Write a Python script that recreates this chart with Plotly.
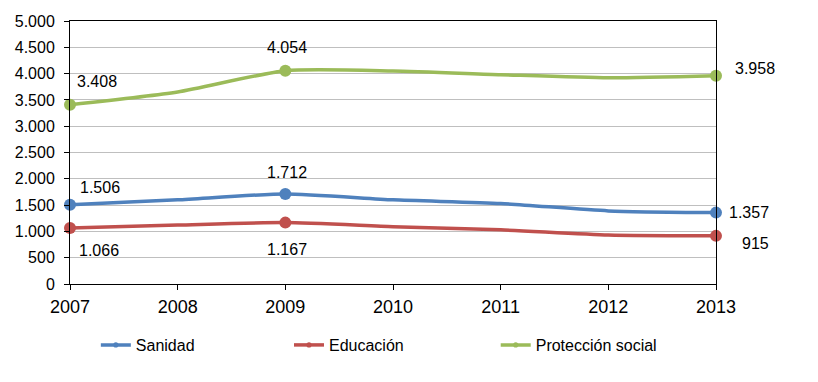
import plotly.graph_objects as go

years = [2007, 2008, 2009, 2010, 2011, 2012, 2013]
sanidad = [1506, 1600, 1712, 1600, 1530, 1390, 1357]
educacion = [1066, 1120, 1167, 1090, 1030, 930, 915]
proteccion = [3408, 3650, 4054, 4050, 3980, 3920, 3958]
labeled_years = [2007, 2009, 2013]
y_ticks = [0, 500, 1000, 1500, 2000, 2500, 3000, 3500, 4000, 4500, 5000]

FONT = "Liberation Sans, Arial"

series = [
    ("Sanidad", sanidad, "#4F81BD", "legend", [(30, 17), (2, 21), (33, 0)]),
    ("Educación", educacion, "#C0504D", "legend2", [(29, -23), (2, -27), (39, -8)]),
    ("Protección social", proteccion, "#9BBB59", "legend3", [(27, 23), (2, 23), (39, 7)]),
]

def fmt(v):
    return f"{v:,}".replace(",", ".")

fig = go.Figure()
annotations = []
for name, vals, color, leg, offs in series:
    sizes = [12 if y in labeled_years else 0 for y in years]
    fig.add_trace(go.Scatter(
        x=years, y=vals, mode="lines+markers", name=name,
        line=dict(color=color, width=3.5, shape="spline", smoothing=0.6),
        marker=dict(size=sizes, color=color, opacity=1, line=dict(width=0)),
        legend=leg, showlegend=True, cliponaxis=False,
    ))
    for (yr, (dx, dy)) in zip(labeled_years, offs):
        v = vals[years.index(yr)]
        annotations.append(dict(
            x=yr, y=v, text=fmt(v), showarrow=False,
            xshift=dx, yshift=dy,
            font=dict(family=FONT, size=16, color="#000"),
        ))

legend_common = dict(
    orientation="h", yanchor="middle", xanchor="left", y=-0.232,
    font=dict(family=FONT, size=16, color="#000"),
    bgcolor="rgba(0,0,0,0)", itemwidth=30,
)
# page body has an 8px default margin, so the figure is 810x374 and margins compensate
fig.update_layout(
    width=810, height=374,
    margin=dict(l=62, r=102, t=13, b=98, autoexpand=False),
    paper_bgcolor="white", plot_bgcolor="white",
    separators=",.",
    font=dict(family=FONT, size=16, color="#000"),
    annotations=annotations,
    legend=dict(x=0.040, **legend_common),
    legend2=dict(x=0.339, **legend_common),
    legend3=dict(x=0.659, **legend_common),
    xaxis=dict(
        range=[2007, 2013], tickvals=years, ticktext=[str(y) for y in years],
        showgrid=False, showline=True, linecolor="#000", linewidth=1, mirror=True,
        ticks="outside", ticklen=5, tickcolor="#000", zeroline=False,
        tickfont=dict(size=18), ticklabelstandoff=1,
    ),
    yaxis=dict(
        range=[0, 5000], tickvals=y_ticks, tickformat=",d",
        showgrid=True, gridcolor="#BFBFBF", gridwidth=1,
        showline=True, linecolor="#000", linewidth=1, mirror=True,
        ticks="outside", ticklen=5, tickcolor="#000", zeroline=False,
        tickfont=dict(size=16), ticklabelstandoff=6,
    ),
)
fig.write_html("out.html")
